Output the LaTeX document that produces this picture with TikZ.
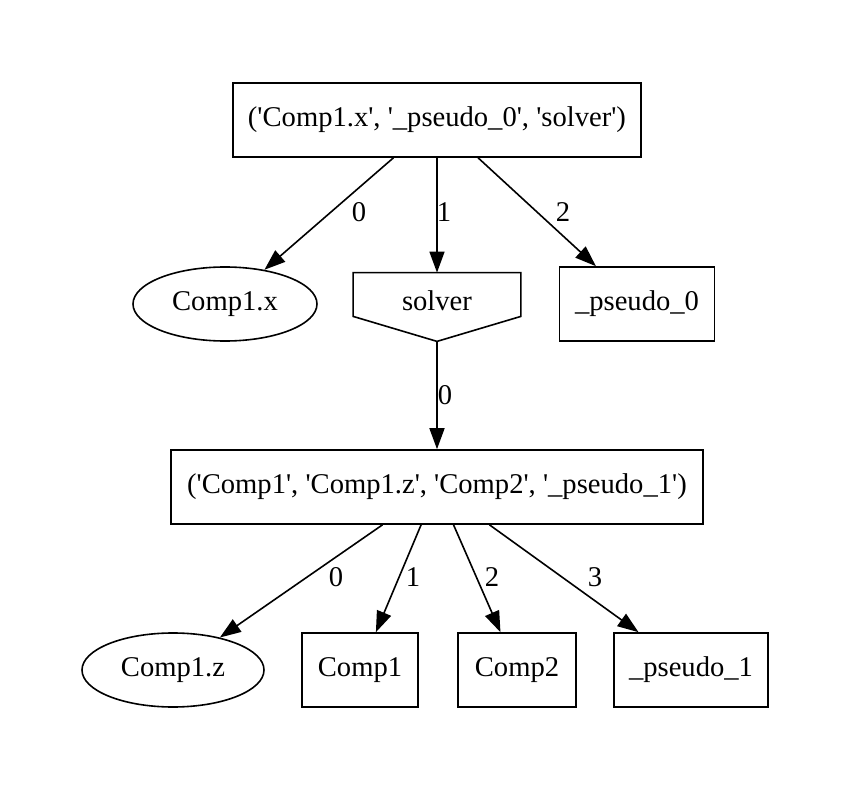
\documentclass[tikz,border=0pt]{standalone}
\usepackage{fontspec}
\newfontfamily\gvfont{Liberation Serif}
\usetikzlibrary{shapes.geometric,arrows.meta}
\tikzset{
  gv/.style={font=\gvfont\fontsize{14.3}{17}\selectfont, inner sep=0pt},
  box/.style={gv, draw, line width=0.8pt, rectangle, minimum height=37pt},
  oval/.style={gv, draw, line width=0.8pt, ellipse, minimum height=37pt},
  lbl/.style={gv},
  link/.style={line width=0.8pt, -{Triangle[length=10.5pt,width=7.5pt]}}
}
\begin{document}
\begin{tikzpicture}[x=0.5pt, y=-0.5pt]
  \useasboundingbox (0,0) rectangle (853,792);
  % top group
  \node[box, minimum width=204pt] (grpA) at (437,120) {('Comp1.x', '\_pseudo\_0', 'solver')};
  \node[oval, minimum width=92pt] (cx) at (225,304) {Comp1.x};
  \node[gv, minimum width=83.5pt, minimum height=34pt,
        label={[gv, yshift=3pt]center:solver}] (solver) at (437,307) {};
  \draw[line width=0.8pt] (solver.north west) -- (solver.north east) -- ([yshift=12.5pt]solver.south east)
        -- (solver.south) -- ([yshift=12.5pt]solver.south west) -- cycle;
  \node[box, minimum width=77.5pt] (ps0) at (637,304) {\_pseudo\_0};
  % bottom group
  \node[box, minimum width=266pt] (grpB) at (437,487) {('Comp1', 'Comp1.z', 'Comp2', '\_pseudo\_1')};
  \node[oval, minimum width=91pt] (cz) at (173,670) {Comp1.z};
  \node[box, minimum width=58pt] (c1) at (360,670) {Comp1};
  \node[box, minimum width=59pt] (c2) at (517,670) {Comp2};
  \node[box, minimum width=77pt] (ps1) at (691,670) {\_pseudo\_1};
  % edges
  \draw[link] (grpA) -- (cx);
  \draw[link] (grpA.south) -- (solver.north);
  \draw[link] (grpA) -- (ps0);
  \draw[link] (solver.south) -- (grpB.north);
  \draw[link] (grpB) -- (cz);
  \draw[link] (grpB) -- (c1);
  \draw[link] (grpB) -- (c2);
  \draw[link] (grpB) -- (ps1);
  % edge labels
  \node[lbl] (l0) at (359,212) {0};
  \node[lbl] (l1) at (444,212) {1};
  \node[lbl] (l2) at (563,212) {2};
  \node[lbl] (l3) at (445,395) {0};
  \node[lbl] (l4) at (336,577) {0};
  \node[lbl] (l5) at (413,577) {1};
  \node[lbl] (l6) at (492,577) {2};
  \node[lbl] (l7) at (595,577) {3};
\end{tikzpicture}
\end{document}
